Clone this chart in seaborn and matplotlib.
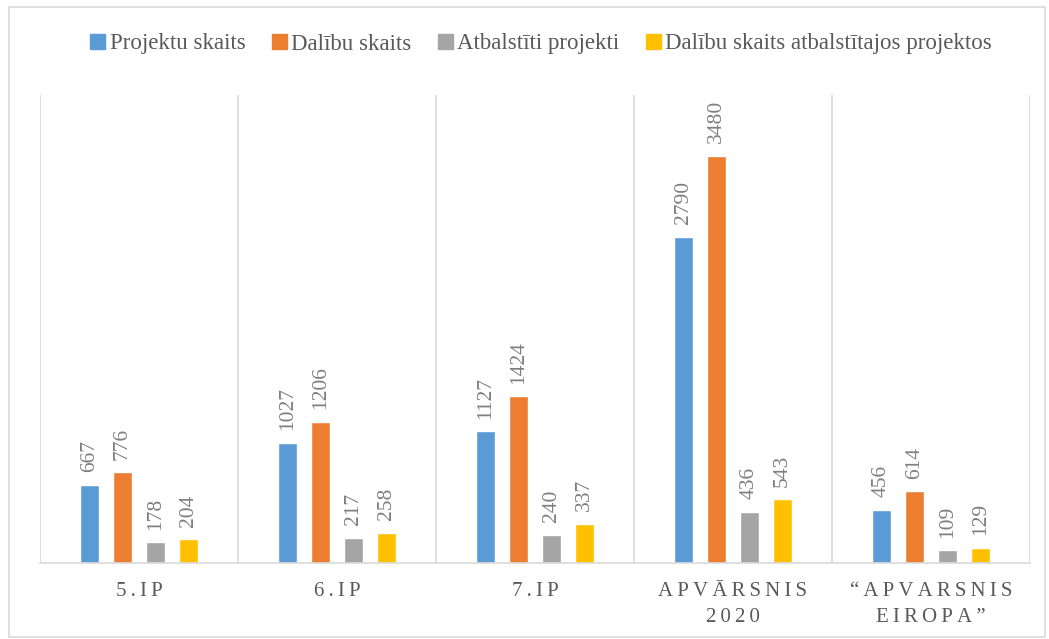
import matplotlib
matplotlib.use('Agg')
import matplotlib.pyplot as plt
import seaborn as sns
import pandas as pd
from matplotlib.patches import Rectangle

# ── Data ─────────────────────────────────────────────────────────────────────
CATEGORIES = ['5.IP', '6.IP', '7.IP', 'APVĀRSNIS\n2020', '“APVARSNIS\nEIROPA”']
SERIES     = ['Projektu skaits', 'Dalību skaits', 'Atbalstīti projekti',
              'Dalību skaits atbalstītajos projektos']
PROJEKTI   = [667, 1027, 1127, 2790, 456]
DALIBAS    = [776, 1206, 1424, 3480, 614]
ATBALSTITI = [178, 217, 240, 436, 109]
DALIBAS_AT = [204, 258, 337, 543, 129]
COLORS     = ['#5B9BD5', '#ED7D31', '#A5A5A5', '#FFC000']

rows = []
for name, vals in zip(SERIES, [PROJEKTI, DALIBAS, ATBALSTITI, DALIBAS_AT]):
    for cat, v in zip(CATEGORIES, vals):
        rows.append({'cat': cat, 'series': name, 'value': v})
df = pd.DataFrame(rows)

# ── Plot ─────────────────────────────────────────────────────────────────────
sns.set_style('white')
plt.rcParams['font.family'] = ['Liberation Serif', 'DejaVu Serif']
TXT = '#595959'

fig = plt.figure(figsize=(10.49, 6.39), dpi=100)
ax = fig.add_axes([40 / 1049, 76 / 639, 990 / 1049, 468 / 639])

sns.barplot(data=df, x='cat', y='value', hue='series', order=CATEGORIES,
            hue_order=SERIES, palette=COLORS, width=0.667, gap=0.45,
            saturation=1, ax=ax, legend=False)

for cont in ax.containers:
    ax.bar_label(cont, rotation=90, padding=9, color='#7F7F7F', fontsize=15.5)

ax.set_ylim(0, 4000)
ax.set_xlim(-0.5, len(CATEGORIES) - 0.5)
ax.set_yticks([])
ax.set_xlabel(''); ax.set_ylabel('')

# category separators
for b in range(len(CATEGORIES) + 1):
    ax.axvline(b - 0.5, color='#D9D9D9', lw=1.2, zorder=0)
for s in ['top', 'left', 'right']:
    ax.spines[s].set_visible(False)
ax.spines['bottom'].set_color('#D9D9D9')
ax.spines['bottom'].set_linewidth(1.2)

# letter-spaced category labels
spaced = ['\n'.join('\u2009'.join(line) for line in c.split('\n')) for c in CATEGORIES]
ax.set_xticks(range(len(CATEGORIES)))
ax.set_xticklabels(spaced, fontsize=15, color=TXT, linespacing=1.45)
ax.tick_params(axis='x', length=0, pad=14)

# legend
handles = [Rectangle((0, 0), 1, 1, color=c) for c in COLORS]
fig.legend(handles, SERIES, loc='center', bbox_to_anchor=(541 / 1049, 1 - 44 / 639),
           ncol=4, frameon=False, fontsize=16.5, labelcolor=TXT,
           handlelength=0.65, handleheight=0.65, handletextpad=0.2, columnspacing=1.15)

# outer border
fig.patches.append(Rectangle((9 / 1049, 2 / 639), 1036 / 1049, 630 / 639,
                             transform=fig.transFigure, fill=False,
                             edgecolor='#D9D9D9', lw=1.2))

fig.savefig('out.png', dpi=100)
